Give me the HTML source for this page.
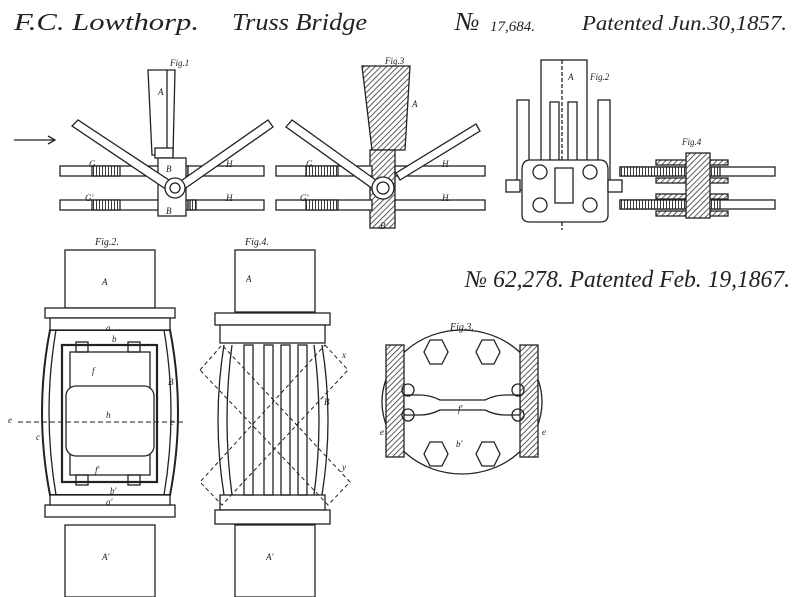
<!DOCTYPE html>
<html><head><meta charset="utf-8"><style>
html,body{margin:0;padding:0;background:#fff}
svg{display:block}
text{font-family:"Liberation Serif",serif;font-style:italic;fill:#222}
</style></head><body>
<svg width="800" height="597" viewBox="0 0 800 597" xmlns="http://www.w3.org/2000/svg">
<defs>
<pattern id="h" width="4" height="4" patternUnits="userSpaceOnUse" patternTransform="rotate(45)"><rect width="4" height="4" fill="#fff"/><line x1="0" y1="0" x2="0" y2="4" stroke="#333" stroke-width="1.6"/></pattern>
<pattern id="v" width="3" height="3" patternUnits="userSpaceOnUse"><rect width="3" height="3" fill="#fff"/><line x1="0" y1="0" x2="0" y2="3" stroke="#222" stroke-width="1.8"/></pattern>
</defs>
<rect width="800" height="597" fill="#fff"/>
<text x="14" y="30" font-size="24" textLength="185" lengthAdjust="spacingAndGlyphs">F.C. Lowthorp.</text>
<text x="232" y="30" font-size="24" textLength="135" lengthAdjust="spacingAndGlyphs">Truss Bridge</text>
<text x="455" y="30" font-size="26">№</text><text x="490" y="31" font-size="15">17,684.</text>
<text x="582" y="30" font-size="21" textLength="205" lengthAdjust="spacingAndGlyphs">Patented Jun.30,1857.</text>
<text x="465" y="287" font-size="24" textLength="325" lengthAdjust="spacingAndGlyphs">№ 62,278. Patented Feb. 19,1867.</text>

<g stroke="#222" fill="none" stroke-width="1.3">
<line x1="14" y1="140" x2="54" y2="140"/><path d="M48 136 L55 140 L48 144"/>
<!-- Fig 1 top -->
<path d="M148 70 L175 70 L173 155 L152 155 Z" fill="#fff"/><line x1="167" y1="70" x2="167" y2="152"/>
<rect x="155" y="148" width="18" height="10" fill="#fff"/>
<rect x="60" y="166" width="128" height="10" fill="#fff"/><rect x="188" y="166" width="76" height="10" fill="#fff"/>
<rect x="92" y="166" width="28" height="10" fill="url(#v)"/>
<rect x="60" y="200" width="128" height="10" fill="#fff"/><rect x="188" y="200" width="76" height="10" fill="#fff"/>
<rect x="92" y="200" width="28" height="10" fill="url(#v)"/><rect x="190" y="200" width="6" height="10" fill="url(#v)"/>
<rect x="158" y="158" width="28" height="58" fill="#fff"/>
<path d="M72 126 L78 120 L178 186 L170 192 Z" fill="#fff"/>
<path d="M268 120 L273 127 L180 192 L175 185 Z" fill="#fff"/>
<circle cx="175" cy="188" r="10" fill="#fff"/><circle cx="175" cy="188" r="5"/>
<!-- Fig 3 top -->
<path d="M362 66 L410 66 L405 150 L372 150 Z" fill="url(#h)"/>
<rect x="370" y="150" width="25" height="78" fill="url(#h)"/>
<rect x="276" y="166" width="96" height="10" fill="#fff"/><rect x="395" y="166" width="90" height="10" fill="#fff"/>
<rect x="306" y="166" width="32" height="10" fill="url(#v)"/>
<rect x="276" y="200" width="96" height="10" fill="#fff"/><rect x="395" y="200" width="90" height="10" fill="#fff"/>
<rect x="306" y="200" width="32" height="10" fill="url(#v)"/>
<path d="M286 127 L292 120 L380 183 L373 189 Z" fill="#fff"/>
<path d="M476 124 L480 131 L400 180 L396 173 Z" fill="#fff"/>
<circle cx="383" cy="188" r="11" fill="#fff"/><circle cx="383" cy="188" r="6"/>
<!-- Fig 2 top -->
<rect x="541" y="60" width="46" height="105" fill="#fff"/><line x1="562" y1="60" x2="562" y2="230" stroke-dasharray="4 2"/>
<rect x="517" y="100" width="12" height="90" fill="#fff"/><rect x="598" y="100" width="12" height="90" fill="#fff"/>
<rect x="550" y="102" width="9" height="90" fill="#fff"/><rect x="568" y="102" width="9" height="90" fill="#fff"/>
<path d="M530 160 H600 Q608 160 608 170 V215 Q608 222 600 222 H530 Q522 222 522 215 V170 Q522 160 530 160 Z" fill="#fff"/>
<rect x="555" y="168" width="18" height="35" fill="#fff"/>
<rect x="506" y="180" width="14" height="12" fill="#fff"/><rect x="608" y="180" width="14" height="12" fill="#fff"/>
<circle cx="540" cy="172" r="7"/><circle cx="540" cy="205" r="7"/><circle cx="590" cy="172" r="7"/><circle cx="590" cy="205" r="7"/>
<!-- Fig 4 top -->
<rect x="620" y="167" width="155" height="9" fill="#fff"/><rect x="620" y="167" width="100" height="9" fill="url(#v)"/>
<rect x="620" y="200" width="155" height="9" fill="#fff"/><rect x="620" y="200" width="100" height="9" fill="url(#v)"/>
<rect x="656" y="160" width="72" height="5" fill="url(#h)"/><rect x="656" y="178" width="72" height="5" fill="url(#h)"/>
<rect x="656" y="194" width="72" height="5" fill="url(#h)"/><rect x="656" y="211" width="72" height="5" fill="url(#h)"/>
<rect x="686" y="153" width="24" height="65" fill="url(#h)"/>

<!-- bottom Fig 2 -->
<rect x="65" y="250" width="90" height="58" fill="#fff"/>
<rect x="65" y="525" width="90" height="72" fill="#fff"/>
<path d="M50 330 Q34 412 50 495 L170 495 Q186 412 170 330 Z" fill="#fff" stroke-width="2"/>
<path d="M56 330 Q42 412 56 495 M164 330 Q178 412 164 495"/>
<rect x="45" y="308" width="130" height="10" fill="#fff"/><rect x="50" y="318" width="120" height="12" fill="#fff"/>
<rect x="45" y="505" width="130" height="12" fill="#fff"/><rect x="50" y="495" width="120" height="10" fill="#fff"/>
<rect x="62" y="345" width="95" height="137" fill="#fff" stroke-width="2.2"/>
<rect x="70" y="352" width="80" height="123"/>
<rect x="66" y="386" width="88" height="70" rx="10" fill="#fff"/>
<rect x="76" y="342" width="12" height="10"/><rect x="128" y="342" width="12" height="10"/>
<rect x="76" y="475" width="12" height="10"/><rect x="128" y="475" width="12" height="10"/>
<line x1="18" y1="422" x2="185" y2="422" stroke-dasharray="5 3" stroke-width="1"/>
<!-- bottom Fig 4 -->
<rect x="235" y="250" width="80" height="62" fill="#fff"/>
<rect x="235" y="525" width="80" height="72" fill="#fff"/>
<rect x="215" y="313" width="115" height="12" fill="#fff"/><rect x="220" y="325" width="105" height="18" fill="#fff"/>
<rect x="220" y="495" width="105" height="15" fill="#fff"/><rect x="215" y="510" width="115" height="14" fill="#fff"/>
<path d="M224 345 Q212 420 224 495 M232 345 Q222 420 232 495"/>
<path d="M322 345 Q334 420 322 495 M314 345 Q324 420 314 495"/>
<rect x="244" y="345" width="9" height="150"/><rect x="264" y="345" width="9" height="150"/>
<rect x="281" y="345" width="9" height="150"/><rect x="298" y="345" width="9" height="150"/>
<path d="M200 370 L222 345 L350 482 L328 505 Z M325 345 L348 370 L222 505 L200 482 Z" stroke-dasharray="4 3" stroke-width="1"/>
<!-- bottom Fig 3 -->
<ellipse cx="462" cy="402" rx="80" ry="72" fill="#fff"/>
<rect x="386" y="345" width="18" height="112" fill="url(#h)"/><rect x="520" y="345" width="18" height="112" fill="url(#h)"/>
<path d="M404 395 H420 Q430 395 440 400 H485 Q495 395 505 395 H520 V415 H505 Q495 415 485 410 H440 Q430 415 420 415 H404 Z" fill="#fff"/>
<polygon points="430,340 442,340 448,352 442,364 430,364 424,352" fill="#fff"/>
<polygon points="482,340 494,340 500,352 494,364 482,364 476,352" fill="#fff"/>
<polygon points="430,442 442,442 448,454 442,466 430,466 424,454" fill="#fff"/>
<polygon points="482,442 494,442 500,454 494,466 482,466 476,454" fill="#fff"/>
<circle cx="408" cy="390" r="6"/><circle cx="408" cy="415" r="6"/><circle cx="518" cy="390" r="6"/><circle cx="518" cy="415" r="6"/>
</g>
<g font-size="9">
<text x="170" y="66">Fig.1</text><text x="385" y="64">Fig.3</text><text x="590" y="80">Fig.2</text><text x="682" y="145">Fig.4</text>
<text x="158" y="95">A</text><text x="412" y="107">A</text><text x="568" y="80">A</text>
<text x="89" y="167">G</text><text x="85" y="201">G'</text><text x="226" y="167">H</text><text x="226" y="201">H</text>
<text x="306" y="167">G</text><text x="300" y="201">G'</text><text x="442" y="167">H</text><text x="442" y="201">H.</text>
<text x="166" y="172">B</text><text x="166" y="214">B</text><text x="380" y="229">B</text>
<text x="95" y="245" font-size="10">Fig.2.</text><text x="245" y="245" font-size="10">Fig.4.</text><text x="450" y="330" font-size="10">Fig.3.</text>
<text x="102" y="285">A</text><text x="246" y="282">A</text><text x="102" y="560">A'</text><text x="266" y="560">A'</text>
<text x="106" y="331">a</text><text x="112" y="342">b</text><text x="106" y="505">a'</text><text x="110" y="494">b'</text>
<text x="92" y="374">f</text><text x="95" y="473">f'</text><text x="106" y="418">h</text><text x="168" y="385">B</text>
<text x="8" y="423">e</text><text x="36" y="440">c</text><text x="170" y="425">e</text>
<text x="324" y="405">B</text><text x="342" y="358">x</text><text x="342" y="470">y</text>
<text x="458" y="412">f'</text><text x="456" y="447">b'</text><text x="380" y="435">e</text><text x="542" y="435">e</text>
</g>
</svg>
</body></html>
